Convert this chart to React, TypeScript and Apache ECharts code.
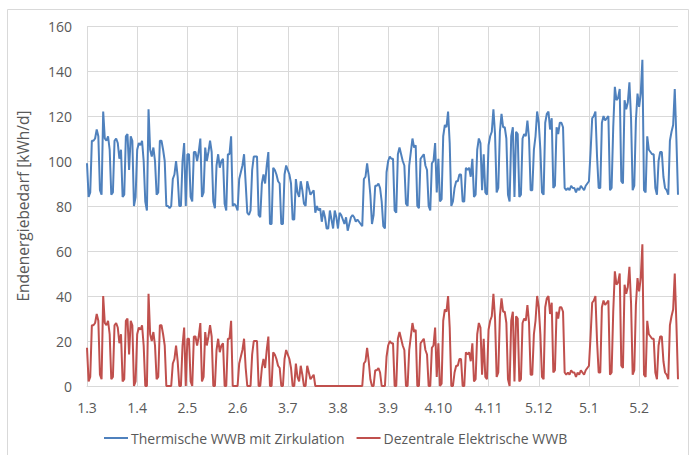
import React, { useEffect, useRef } from "react";
import * as echarts from "echarts";

// Daily final energy demand, 1 March 2019 to 29 February 2020 (kWh/d)
const thermischeWWB: number[] = [
  99, 84, 86, 109, 109, 110, 114,
  111, 87, 85, 122, 110, 109, 111,
  105, 85, 86, 109, 110, 108, 101,
  105, 84, 85, 111, 112, 96, 111,
  109, 80, 84, 105, 108, 107, 109,
  100, 82, 78, 123, 105, 102, 106,
  100, 85, 86, 109, 109, 105, 100,
  80, 80, 79, 80, 92, 94, 100,
  93, 80, 80, 100, 108, 80, 103,
  103, 84, 82, 104, 104, 100, 104,
  110, 84, 86, 106, 100, 104, 109,
  104, 82, 79, 98, 103, 97, 100,
  101, 81, 78, 103, 103, 111, 80,
  81, 80, 78, 92, 95, 98, 103,
  90, 77, 76, 78, 96, 102, 102,
  102, 76, 75, 90, 94, 90, 98,
  104, 72, 72, 97, 96, 94, 91,
  90, 72, 72, 94, 98, 96, 94,
  90, 74, 74, 92, 86, 84, 91,
  87, 81, 80, 91, 88, 85, 86,
  87, 77, 80, 78, 79, 73, 78,
  75, 70, 70, 78, 74, 70, 78,
  75, 70, 77, 76, 74, 72, 75,
  69, 72, 75, 76, 75, 73, 74,
  73, 72, 71, 92, 93, 99, 93,
  85, 72, 76, 89, 89, 90, 88,
  82, 71, 70, 95, 100, 102, 101,
  101, 78, 77, 103, 106, 103, 100,
  98, 81, 80, 98, 104, 110, 106,
  107, 80, 79, 101, 102, 103, 98,
  96, 80, 78, 99, 100, 108, 86,
  101, 82, 83, 111, 116, 115, 122,
  108, 80, 82, 88, 91, 91, 94,
  94, 82, 82, 97, 96, 97, 93,
  101, 84, 85, 105, 110, 108, 87,
  103, 86, 85, 107, 111, 113, 123,
  112, 86, 88, 113, 121, 115, 115,
  110, 85, 82, 111, 115, 84, 113,
  112, 84, 85, 110, 112, 111, 118,
  110, 87, 87, 105, 111, 122, 117,
  105, 86, 85, 117, 121, 122, 114,
  119, 88, 89, 115, 112, 117, 117,
  115, 88, 87, 88, 87, 89, 88,
  88, 86, 88, 87, 89, 88, 87,
  89, 90, 91, 104, 119, 120, 122,
  102, 88, 88, 117, 120, 118, 119,
  120, 87, 88, 115, 133, 127, 128,
  132, 91, 90, 127, 123, 126, 135,
  119, 87, 89, 118, 130, 124, 130,
  145, 87, 86, 111, 105, 104, 103,
  103, 88, 85, 100, 104, 104, 93,
  88, 87, 85, 109, 113, 116, 132,
  110, 85,
];

const dezentraleWWB: number[] = [
  17, 2, 4, 27, 27, 28, 32,
  29, 5, 3, 40, 28, 27, 29,
  23, 3, 4, 27, 28, 26, 19,
  23, 2, 3, 29, 30, 14, 29,
  27, 0, 2, 23, 26, 25, 27,
  18, 0, 0, 41, 23, 20, 24,
  18, 3, 4, 27, 27, 23, 18,
  0, 0, 0, 0, 10, 12, 18,
  11, 0, 0, 18, 26, 0, 21,
  21, 2, 0, 22, 22, 18, 22,
  28, 2, 4, 24, 18, 22, 27,
  22, 0, 0, 16, 21, 15, 18,
  19, 0, 0, 21, 21, 29, 0,
  0, 0, 0, 10, 13, 16, 21,
  8, 0, 0, 0, 14, 20, 20,
  20, 0, 0, 8, 12, 8, 16,
  22, 0, 0, 15, 14, 12, 9,
  8, 0, 0, 12, 16, 14, 12,
  8, 0, 0, 10, 4, 2, 9,
  5, 0, 0, 9, 6, 3, 4,
  5, 0, 0, 0, 0, 0, 0,
  0, 0, 0, 0, 0, 0, 0,
  0, 0, 0, 0, 0, 0, 0,
  0, 0, 0, 0, 0, 0, 0,
  0, 0, 0, 10, 11, 17, 11,
  3, 0, 0, 7, 7, 8, 6,
  0, 0, 0, 13, 18, 20, 19,
  19, 0, 0, 21, 24, 21, 18,
  16, 0, 0, 16, 22, 28, 24,
  25, 0, 0, 19, 20, 21, 16,
  14, 0, 0, 17, 18, 26, 4,
  19, 0, 1, 29, 34, 33, 40,
  26, 0, 0, 6, 9, 9, 12,
  12, 0, 0, 15, 14, 15, 11,
  19, 2, 3, 23, 28, 26, 5,
  21, 4, 3, 25, 29, 31, 41,
  30, 4, 6, 31, 39, 33, 33,
  28, 3, 0, 29, 33, 2, 31,
  30, 2, 3, 28, 30, 29, 36,
  28, 5, 5, 23, 29, 40, 35,
  23, 4, 3, 35, 39, 40, 32,
  37, 6, 7, 33, 30, 35, 35,
  33, 6, 5, 6, 5, 7, 6,
  6, 4, 6, 5, 7, 6, 5,
  7, 8, 9, 22, 37, 38, 40,
  20, 6, 6, 35, 38, 36, 37,
  38, 5, 6, 33, 51, 45, 46,
  50, 9, 8, 45, 41, 44, 53,
  37, 5, 7, 36, 48, 42, 48,
  63, 5, 4, 29, 23, 22, 21,
  21, 6, 3, 18, 22, 22, 11,
  6, 5, 3, 27, 31, 34, 50,
  28, 3,
];

const seriesNames = ["Thermische WWB mit Zirkulation", "Dezentrale Elektrische WWB"];
const seriesColors = ["#4F81BD", "#C0504D"];

// Day labels "d.m" for every day of the series
const days: string[] = thermischeWWB.map((_, i) => {
  const d = new Date(2019, 2, 1 + i);
  return `${d.getDate()}.${d.getMonth() + 1}`;
});

const FONT = "Open Sans";

export default function App() {
  const ref = useRef<HTMLDivElement>(null);

  useEffect(() => {
    if (!ref.current) return;
    const chart = echarts.init(ref.current, undefined, { renderer: "svg" });
    chart.setOption({
      animation: false,
      backgroundColor: "#ffffff",
      textStyle: { fontFamily: FONT },
      graphic: [
        {
          type: "rect",
          shape: { x: 7.5, y: 9.5, width: 681, height: 460 },
          style: { fill: "none", stroke: "#d9d9d9", lineWidth: 1 },
          silent: true,
        },
      ],
      grid: { left: 87, right: 16, top: 26, bottom: 69, containLabel: false },
      legend: {
        bottom: 5,
        left: 99,
        itemWidth: 24,
        itemHeight: 2,
        itemGap: 12,
        icon: "rect",
        textStyle: { fontFamily: FONT, fontSize: 14, color: "#595959", padding: [0, 0, 0, -2] },
        data: seriesNames,
      },
      xAxis: {
        type: "category",
        boundaryGap: false,
        data: days,
        axisLine: { lineStyle: { color: "#d9d9d9" } },
        axisTick: { show: false },
        axisLabel: {
          interval: 30,
          color: "#595959",
          fontFamily: FONT,
          fontSize: 14,
          margin: 14,
        },
        splitLine: { show: true, interval: 30, lineStyle: { color: "#d9d9d9" } },
      },
      yAxis: {
        type: "value",
        min: 0,
        max: 160,
        interval: 20,
        name: "Endenergiebedarf [kWh/d]",
        nameLocation: "middle",
        nameGap: 56,
        nameRotate: 90,
        nameTextStyle: { color: "#595959", fontFamily: FONT, fontSize: 15.5 },
        axisLine: { show: false },
        axisTick: { show: false },
        axisLabel: { color: "#595959", fontFamily: FONT, fontSize: 14, margin: 15 },
        splitLine: { lineStyle: { color: "#d9d9d9" } },
      },
      series: [
        {
          name: seriesNames[0],
          type: "line",
          data: thermischeWWB,
          symbol: "none",
          color: seriesColors[0],
          lineStyle: { width: 2, color: seriesColors[0] },
        },
        {
          name: seriesNames[1],
          type: "line",
          data: dezentraleWWB,
          symbol: "none",
          color: seriesColors[1],
          lineStyle: { width: 2, color: seriesColors[1] },
        },
      ],
    });
    return () => chart.dispose();
  }, []);

  return (
    <div
      ref={ref}
      style={{ position: "fixed", left: 0, top: 0, width: 694, height: 455, background: "#fff" }}
    />
  );
}
